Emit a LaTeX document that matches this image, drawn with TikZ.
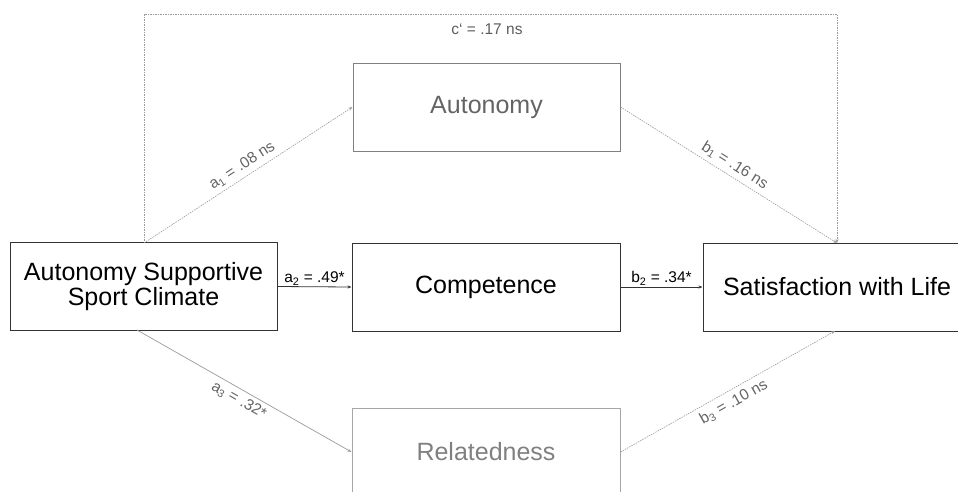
\documentclass[tikz,border=0pt]{standalone}
\usepackage{fontspec}
\setmainfont{Liberation Sans}
\usetikzlibrary{arrows.meta}
\definecolor{dk}{HTML}{333333}
\definecolor{gA}{HTML}{646464}
\definecolor{gB}{HTML}{808080}
\definecolor{lnA}{HTML}{9A9A9A}
\begin{document}
\begin{tikzpicture}[x=1pt,y=-1pt,
  box/.style={draw=dk,line width=1pt,minimum width=#1,minimum height=88pt,inner sep=0pt,align=center,font=\fontsize{25}{28}\selectfont},
  box/.default=267pt,
  tip/.style={-{Stealth[length=4pt,width=3pt]}},
  dotline/.style={draw=lnA,line width=0.6pt,dash pattern=on 1.5pt off 1pt,tip},
  solidline/.style={draw=dk,line width=0.8pt,tip},
  lab/.style={font=\fontsize{15.5}{18}\selectfont,inner sep=1pt}]
\useasboundingbox (0,0) rectangle (958,491);
\begin{scope}
\clip (0,0) rectangle (958,491);
\node[box=267pt] (asc) at (143.5,286.5) {Autonomy Supportive\\[-3pt]Sport Climate};
\node[box=268pt] (comp) at (486,287) {Competence};
\node[box=268pt] (swl) at (837,287) {Satisfaction with Life};
\node[box=267pt,draw=gB,text=gA] (aut) at (486.5,107) {Autonomy};
\node[box=268pt,draw=gB!70,text=gB] (rel) at (486,452) {Relatedness};
\end{scope}
\coordinate (ascTop) at (144,243);
\coordinate (ascBot) at (137,330);
\coordinate (swlTop) at (837,243);
\coordinate (swlBot) at (835,331);
\coordinate (cl) at (144,14);
\coordinate (cr) at (837,14);
\draw[dotline] (ascTop) -- (cl) -- (cr) -- (swlTop);
\node[lab,text=dk!80] (cl1) at (487,29) {c‘ = .17 ns};
\draw[dotline] (ascTop) -- (aut.west)
  node[pos=0.5,sloped,above=3pt,lab,text=gA] (la1) {a\textsubscript{1} = .08 ns};
\draw[dotline] (aut.east) -- (swlTop)
  node[pos=0.5,sloped,above=3pt,lab,text=gA] (lb1) {b\textsubscript{1} = .16 ns};
\draw[solidline] (asc.east) -- (comp.west)
  node[pos=0.5,above,lab,text=black] (la2) {a\textsubscript{2} = .49*};
\draw[solidline] (comp.east) -- (swl.west)
  node[pos=0.5,above,lab,text=black] (lb2) {b\textsubscript{2} = .34*};
\draw[draw=lnA,line width=0.7pt,tip] (ascBot) -- (rel.west)
  node[pos=0.5,sloped,below=3pt,lab,text=gA] (la3) {a\textsubscript{3} = .32*};
\draw[dotline] (rel.east) -- (swlBot)
  node[pos=0.5,sloped,below=4pt,lab,text=gA] (lb3) {b\textsubscript{3} = .10 ns};
\end{tikzpicture}
\end{document}
